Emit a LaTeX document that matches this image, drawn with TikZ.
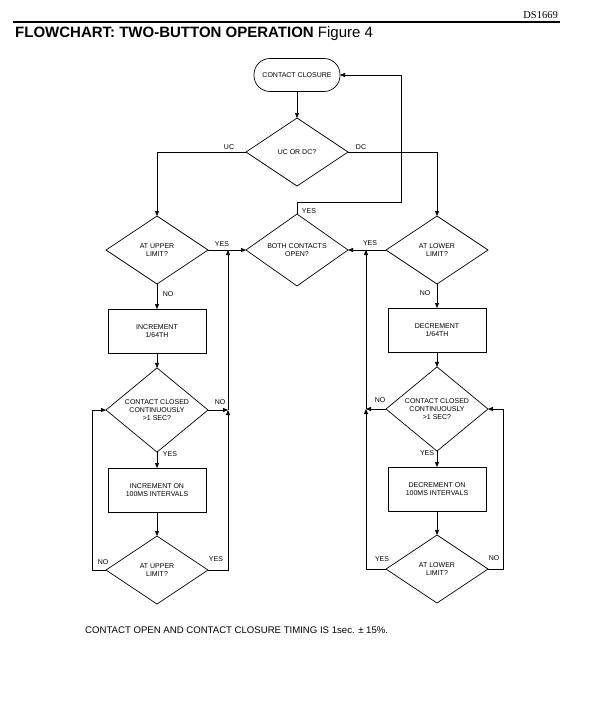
\documentclass[tikz,border=0pt]{standalone}
\usepackage{fontspec}
\setmainfont{Liberation Sans}
\newfontfamily\serifdoc{Liberation Serif}
\usetikzlibrary{shapes.geometric,arrows.meta}
\newcommand\dft{\fontsize{7}{7.6}\selectfont}
\tikzset{
  flow/.style={draw=black, line width=0.7pt},
  dec/.style={diamond, flow, minimum width=102pt, minimum height=68pt, inner sep=0pt, outer sep=0pt, align=center, font=\dft},
  procbox/.style={rectangle, flow, minimum width=98pt, minimum height=44pt, inner sep=0pt, outer sep=0pt, align=center, font=\dft},
  term/.style={rectangle, rounded corners=16pt, flow, minimum width=86pt, minimum height=33pt, inner sep=0pt, outer sep=0pt, font=\dft},
  lbl/.style={font=\dft, inner sep=0pt},
  conn/.style={line width=0.7pt, -{Triangle[length=5pt,width=4pt]}},
}
\begin{document}
\begin{tikzpicture}[x=1pt,y=-1pt]
\useasboundingbox (0,0) rectangle (608,715);
% header
\node[anchor=base east, inner sep=0pt, font=\serifdoc\fontsize{10.5}{12}\selectfont] (ds) at (558,18) {DS1669};
\draw[line width=1.2pt] (13,22) -- (560,22);
\node[anchor=base west, inner sep=0pt, font=\fontsize{15}{18}\selectfont] (title) at (15,37) {\textbf{FLOWCHART: TWO-BUTTON OPERATION} Figure 4};

% nodes
\node[term] (cc) at (297,75) {CONTACT CLOSURE};
\node[dec] (ud) at (297,152) {UC OR DC?};
\node[dec] (ul) at (157,250) {AT UPPER\\LIMIT?};
\node[dec] (both) at (297,250) {BOTH CONTACTS\\OPEN?};
\node[dec] (ll) at (437,250) {AT LOWER\\LIMIT?};
\node[procbox] (inc) at (157,331) {INCREMENT\\1/64TH};
\node[procbox] (dcr) at (437,330) {DECREMENT\\1/64TH};
\node[dec] (ccl) at (157,410) {CONTACT CLOSED\\CONTINUOUSLY\\>1 SEC?};
\node[dec] (ccr) at (437,409) {CONTACT CLOSED\\CONTINUOUSLY\\>1 SEC?};
\node[procbox] (inc2) at (157,490) {INCREMENT ON\\100MS INTERVALS};
\node[procbox] (dec2) at (437,489) {DECREMENT ON\\100MS INTERVALS};
\node[dec] (bul) at (157,570) {AT UPPER\\LIMIT?};
\node[dec] (bll) at (437,569) {AT LOWER\\LIMIT?};

% helper coordinates
\coordinate (ra) at (401,202);
\coordinate (rb) at (401,75);
\coordinate (lla) at (92,570);
\coordinate (llb) at (92,410);
\coordinate (lia) at (228,570);
\coordinate (lij) at (228,410);
\coordinate (lit) at (228,250);
\coordinate (rla) at (503,569);
\coordinate (rlb) at (503,409);
\coordinate (ria) at (366,569);
\coordinate (rij) at (366,409);
\coordinate (rit) at (366,250);

% connectors
\draw[conn] (cc.south) -- (ud.north);
\draw[conn] (ud.west) -| (ul.north);
\draw[conn] (ud.east) -| (ll.north);
\draw[conn] (both.north) |- (ra) -- (rb) -- (cc.east);
\draw[conn] (ul.east) -- (both.west);
\draw[conn] (ll.west) -- (both.east);
\draw[conn] (ul.south) -- (inc.north);
\draw[conn] (ll.south) -- (dcr.north);
\draw[conn] (inc.south) -- (ccl.north);
\draw[conn] (dcr.south) -- (ccr.north);
\draw[conn] (ccl.south) -- (inc2.north);
\draw[conn] (ccr.south) -- (dec2.north);
\draw[conn] (inc2.south) -- (bul.north);
\draw[conn] (dec2.south) -- (bll.north);
% left loops
\draw[conn] (bul.west) -- (lla) -- (llb) -- (ccl.west);
\draw[conn] (bul.east) -- (lia) -- (lij);
\draw[conn] (lij) -- (lit);
\draw[conn] (ccl.east) -- (lij);
% right loops
\draw[conn] (bll.east) -- (rla) -- (rlb) -- (ccr.east);
\draw[conn] (bll.west) -- (ria) -- (rij);
\draw[conn] (rij) -- (rit);
\draw[conn] (ccr.west) -- (rij);

% labels
\node[lbl] (tUC) at (229,147) {UC};
\node[lbl] (tDC) at (361,147) {DC};
\node[lbl] (tY0) at (309,211) {YES};
\node[lbl] (tY1) at (222,244) {YES};
\node[lbl] (tY2) at (370,243) {YES};
\node[lbl] (tN1) at (168,294) {NO};
\node[lbl] (tN2) at (425,293) {NO};
\node[lbl] (tN3) at (220,402) {NO};
\node[lbl] (tY3) at (170,454) {YES};
\node[lbl] (tN4) at (380,400) {NO};
\node[lbl] (tY4) at (427,453) {YES};
\node[lbl] (tN5) at (103,562) {NO};
\node[lbl] (tY5) at (216,559) {YES};
\node[lbl] (tY6) at (382,559) {YES};
\node[lbl] (tN6) at (494,558) {NO};

% footnote
\node[anchor=base west, inner sep=0pt, font=\fontsize{9.6}{11}\selectfont] (note) at (85,633) {CONTACT OPEN AND CONTACT CLOSURE TIMING IS 1sec. ± 15\%.};
\end{tikzpicture}
\end{document}
